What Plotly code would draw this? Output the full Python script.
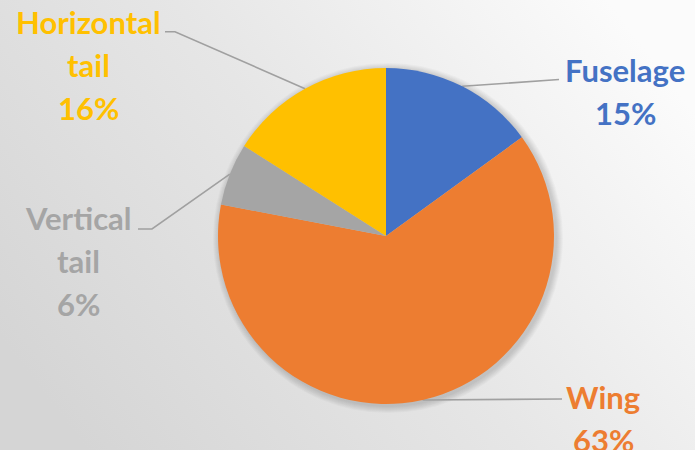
import base64
import math

import plotly.graph_objects as go

# Share of total aircraft weight by component
components = ["Fuselage", "Wing", "Vertical tail", "Horizontal tail"]
shares = [15, 63, 6, 16]
colors = ["#4472C4", "#ED7D31", "#A5A5A5", "#FFC000"]
label_lines = [["Fuselage"], ["Wing"], ["Vertical", "tail"], ["Horizontal", "tail"]]

W, H = 695, 450
CX, CY, R = 386, 236, 168          # pie centre and radius in pixels
LINE_STEP = 43                     # spacing between label lines

# label anchor: centre x, centre y of the first line
label_pos = [(625, 70), (603, 397), (78, 218), (88, 22)]
# leader line knees: elbow point, end point next to the label
leader_knee = [((552, 79.5), (559, 79.5)),
               ((556, 399), (562, 399)),
               ((152, 229), (138, 229)),
               ((175, 31.7), (165, 31.7))]

fig = go.Figure()

fig.add_trace(go.Pie(
    labels=components,
    values=shares,
    sort=False,
    direction="clockwise",
    rotation=0,
    marker=dict(colors=colors, line=dict(width=0)),
    textinfo="none",
    hoverinfo="label+percent",
    showlegend=False,
    domain=dict(x=[(CX - R) / W, (CX + R) / W],
                y=[1 - (CY + R) / H, 1 - (CY - R) / H]),
))

# leader lines start at each slice's mid-angle on the rim
total = sum(shares)
acc = 0
for val, (knee, end) in zip(shares, leader_knee):
    mid = (acc + val / 2) / total * 2 * math.pi
    acc += val
    sx = CX + R * math.sin(mid)
    sy = CY - R * math.cos(mid)
    fig.add_trace(go.Scatter(
        x=[sx, knee[0], end[0]], y=[sy, knee[1], end[1]],
        mode="lines", line=dict(color="#A0A0A0", width=1.6),
        hoverinfo="skip", showlegend=False,
    ))

# labels: name lines followed by the percentage
for lines, val, col, (lx, ly) in zip(label_lines, shares, colors, label_pos):
    for i, txt in enumerate(lines + [f"{round(val / total * 100)}%"]):
        fig.add_annotation(
            x=lx, y=ly + i * LINE_STEP, xref="x", yref="y",
            text=txt, showarrow=False, xanchor="center", yanchor="middle",
            font=dict(family="Lato", size=31, color=col, weight="bold"),
        )

# soft drop shadow beneath the pie
for k in range(7, 0, -1):
    fig.add_shape(
        type="circle", xref="x", yref="y", layer="below",
        x0=CX + 2 - R - k, x1=CX + 2 + R + k,
        y0=CY + 2 - R - k, y1=CY + 2 + R + k,
        fillcolor="rgba(0,0,0,0.022)", line=dict(width=0),
    )

# light grey gradient backdrop
svg = (
    f'<svg xmlns="http://www.w3.org/2000/svg" width="{W}" height="{H}">'
    '<defs><linearGradient id="g" x1="0" y1="0.75" x2="1" y2="0.25">'
    '<stop offset="0" stop-color="#d5d5d5"/>'
    '<stop offset="0.5" stop-color="#e6e6e6"/>'
    '<stop offset="1" stop-color="#fbfbfb"/>'
    '</linearGradient></defs>'
    f'<rect width="{W}" height="{H}" fill="url(#g)"/></svg>'
)
fig.add_layout_image(
    source="data:image/svg+xml;base64," + base64.b64encode(svg.encode()).decode(),
    xref="paper", yref="paper", x=0, y=1, sizex=1, sizey=1,
    xanchor="left", yanchor="top", sizing="stretch", layer="below",
)

fig.update_layout(
    width=W, height=H,
    margin=dict(l=0, r=0, t=0, b=0),
    paper_bgcolor="rgba(0,0,0,0)",
    plot_bgcolor="rgba(0,0,0,0)",
    xaxis=dict(range=[0, W], domain=[0, 1], visible=False, fixedrange=True),
    yaxis=dict(range=[H, 0], domain=[0, 1], visible=False, fixedrange=True),
)

fig.write_html("out.html")
